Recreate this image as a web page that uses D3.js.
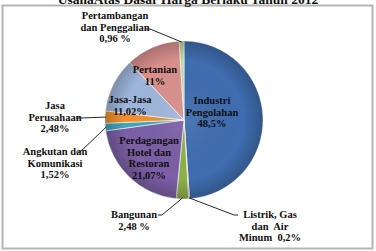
<!DOCTYPE html>
<html>
<head>
<meta charset="utf-8">
<script src="https://cdn.jsdelivr.net/npm/d3@7"></script>
<style>
  body { margin: 0; background: #fff; }
  text { font-family: "Liberation Serif", "Times New Roman", serif; font-weight: bold; fill: #111; }
</style>
</head>
<body>
<svg id="chart" width="376" height="251"></svg>
<script>
// sectors, clockwise from 12 o'clock
const sectors = [
  "Industri Pengolahan", "Listrik, Gas dan Air Minum", "Bangunan",
  "Perdagangan Hotel dan Restoran", "Angkutan dan Komunikasi", "Jasa Perusahaan",
  "Jasa-Jasa", "Pertanian", "Pertambangan dan Penggalian"
];
const shares = [48.5, 0.2, 2.48, 21.07, 1.52, 2.48, 11.02, 11, 0.96];
const colors = ["#3f6db0", "#c0504d", "#8db04a", "#7c5fa6", "#3fa6bd", "#f0902f", "#9fb6dc", "#d9908d", "#c3d69b"];
const labelLines = [
  ["Industri", "Pengolahan", "48,5%"],
  ["Listrik, Gas", "dan  Air", "Minum  0,2%"],
  ["Bangunan", "2,48 %"],
  ["Perdagangan", "Hotel dan", "Restoran", "21,07%"],
  ["Angkutan dan", "Komunikasi", "1,52%"],
  ["Jasa", "Perusahaan", "2,48%"],
  ["Jasa-Jasa", "11,02%"],
  ["Pertanian", "11%"],
  ["Pertambangan", "dan Penggalian", "0,96 %"]
];
// label centre (x, first line y) and leader start for the outside labels
const labelPos = [
  [212, 104], [270, 218], [134, 218], [149, 144], [55, 155],
  [55, 109], [130, 103], [155, 73], [115, 19]
];
const leaderFrom = [null, [238, 215], [158, 215], null, [76, 152], [76, 118], null, null, [146, 29]];

const title = "UsahaAtas Dasar Harga Berlaku Tahun 2012";

const svg = d3.select("#chart");
const cx = 184, cy = 120, r = 79;

svg.append("rect")
  .attr("x", 2.5).attr("y", 5.5).attr("width", 370).attr("height", 243)
  .attr("fill", "#fff").attr("stroke", "#b5b5b5").attr("stroke-width", 2);

svg.append("text")
  .attr("x", 188).attr("y", 4)
  .attr("text-anchor", "middle")
  .style("font-size", "13.5px")
  .text(title);

const data = sectors.map((s, i) => ({ name: s, value: shares[i], color: colors[i], lines: labelLines[i], pos: labelPos[i], from: leaderFrom[i] }));

const pie = d3.pie().value(d => d.value).sort(null);
const arc = d3.arc().innerRadius(0).outerRadius(r);
const arcs = pie(data);

const defs = svg.append("defs");
const grad = defs.append("radialGradient").attr("id", "shade")
  .attr("cx", "50%").attr("cy", "50%").attr("r", "50%");
grad.append("stop").attr("offset", "0%").attr("stop-color", "#fff").attr("stop-opacity", 0.08);
grad.append("stop").attr("offset", "75%").attr("stop-color", "#000").attr("stop-opacity", 0);
grad.append("stop").attr("offset", "100%").attr("stop-color", "#000").attr("stop-opacity", 0.22);

const g = svg.append("g").attr("transform", `translate(${cx},${cy})`);

g.selectAll("path")
  .data(arcs)
  .join("path")
  .attr("d", arc)
  .attr("fill", d => d.data.color)
  .attr("stroke", "#fff")
  .attr("stroke-width", 0.6);

g.append("circle").attr("r", r).attr("fill", "url(#shade)");

// leader lines for outside labels
const edge = d3.arc().innerRadius(r - 2).outerRadius(r - 2);
svg.append("g")
  .selectAll("path")
  .data(arcs.filter(d => d.data.from))
  .join("path")
  .attr("fill", "none")
  .attr("stroke", "#111")
  .attr("stroke-width", 0.9)
  .attr("d", d => {
    const mid = (d.startAngle + d.endAngle) / 2;
    const ex = cx + Math.sin(mid) * (r - 1);
    const ey = cy - Math.cos(mid) * (r - 1);
    const [fx, fy] = d.data.from;
    const kx = fx + (ex > fx ? 4 : -4);
    return d3.line()([[fx, fy], [kx, fy], [ex, ey]]);
  });

const labels = svg.append("g")
  .selectAll("text")
  .data(data)
  .join("text")
  .attr("text-anchor", "middle")
  .style("font-size", "10.5px")
  .attr("x", d => d.pos[0])
  .attr("y", d => d.pos[1]);

labels.selectAll("tspan")
  .data(d => d.lines.map(l => ({ l, x: d.pos[0] })))
  .join("tspan")
  .attr("x", t => t.x)
  .attr("dy", (t, i) => i === 0 ? 0 : 11.5)
  .style("white-space", "pre")
  .text(t => t.l);
</script>
</body>
</html>
